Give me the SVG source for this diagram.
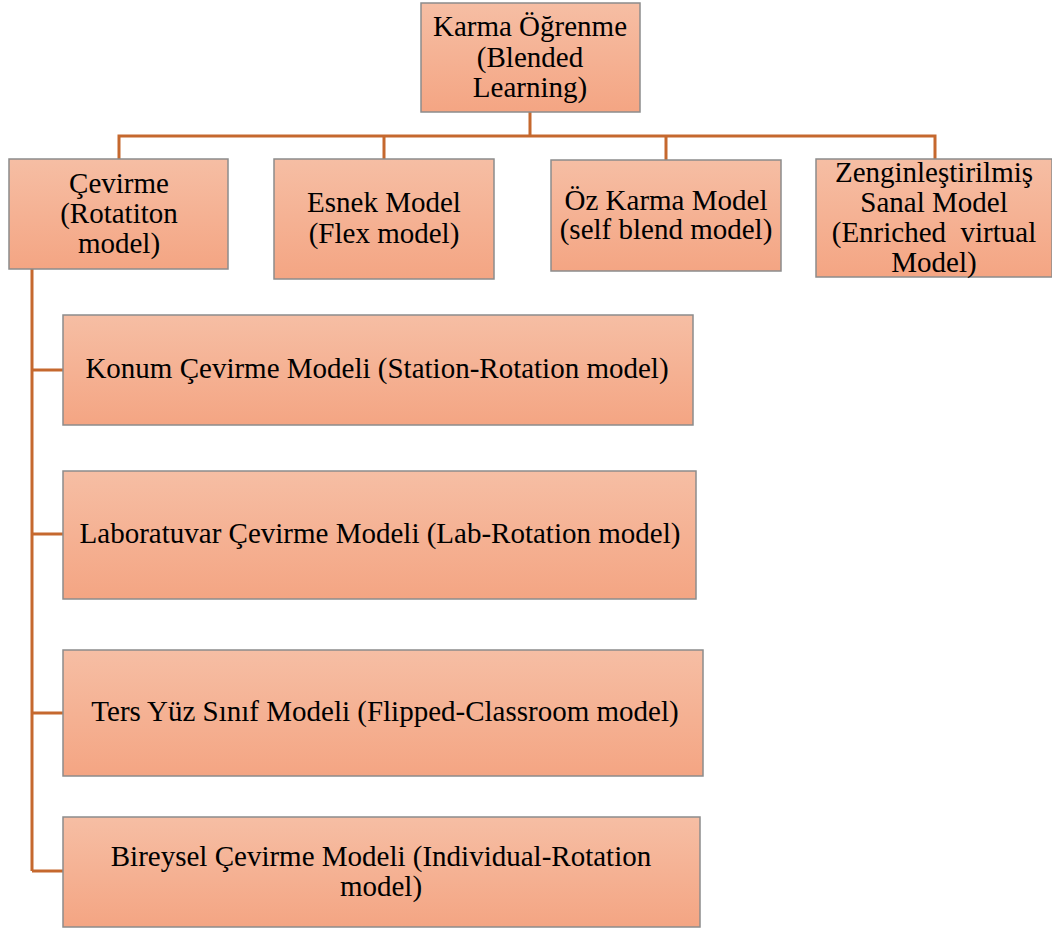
<svg xmlns="http://www.w3.org/2000/svg" width="1052" height="929" viewBox="0 0 1052 929">
<defs>
<linearGradient id="g" x1="0" y1="0" x2="0" y2="1">
<stop offset="0" stop-color="#f6bea4"/>
<stop offset="1" stop-color="#f4a583"/>
</linearGradient>
</defs>
<style>
.box{fill:url(#g);stroke:#8c8c8c;stroke-width:1.5}
.t{font-family:"Liberation Serif","Times New Roman",serif;font-size:29px;fill:#000;text-anchor:middle;white-space:pre}
.c{fill:none;stroke:#c5682e;stroke-width:3}
</style>
<rect width="1052" height="929" fill="#fff"/>
<g id="connectors">
<path class="c" d="M530 112 V136 M119 159 V136 H935 V159 M384 136 V159 M666 136 V160"/>
<path class="c" d="M32 269 V871 M32 370 H63 M32 534 H63 M32 713 H63 M32 871 H63"/>
</g>
<g id="root">
<rect class="box" x="421" y="3" width="219" height="109"/>
<text class="t" x="530" y="36">Karma Öğrenme</text>
<text class="t" x="530" y="67">(Blended</text>
<text class="t" x="530" y="97">Learning)</text>
</g>
<g id="rotation">
<rect class="box" x="9" y="159" width="219" height="110"/>
<text class="t" x="119" y="193">Çevirme</text>
<text class="t" x="119" y="223">(Rotatiton</text>
<text class="t" x="119" y="253">model)</text>
</g>
<g id="flex">
<rect class="box" x="274" y="159" width="220" height="120"/>
<text class="t" x="384" y="212">Esnek Model</text>
<text class="t" x="384" y="243">(Flex model)</text>
</g>
<g id="selfblend">
<rect class="box" x="551" y="160" width="230" height="111"/>
<text class="t" x="666" y="210">Öz Karma Model</text>
<text class="t" x="666" y="239">(self blend model)</text>
</g>
<g id="enriched">
<rect class="box" x="816" y="159" width="236" height="118"/>
<text class="t" x="934" y="182">Zenginleştirilmiş</text>
<text class="t" x="934" y="212">Sanal Model</text>
<text class="t" x="934" y="242">(Enriched  virtual</text>
<text class="t" x="934" y="272">Model)</text>
</g>
<g id="station">
<rect class="box" x="63" y="315" width="630" height="110"/>
<text class="t" x="377" y="378">Konum Çevirme Modeli (Station-Rotation model)</text>
</g>
<g id="lab">
<rect class="box" x="63" y="471" width="633" height="128"/>
<text class="t" x="380" y="543">Laboratuvar Çevirme Modeli (Lab-Rotation model)</text>
</g>
<g id="flipped">
<rect class="box" x="63" y="650" width="640" height="126"/>
<text class="t" x="385" y="721">Ters Yüz Sınıf Modeli (Flipped-Classroom model)</text>
</g>
<g id="individual">
<rect class="box" x="63" y="817" width="637" height="110"/>
<text class="t" x="381" y="866">Bireysel Çevirme Modeli (Individual-Rotation</text>
<text class="t" x="381" y="896">model)</text>
</g>
</svg>
